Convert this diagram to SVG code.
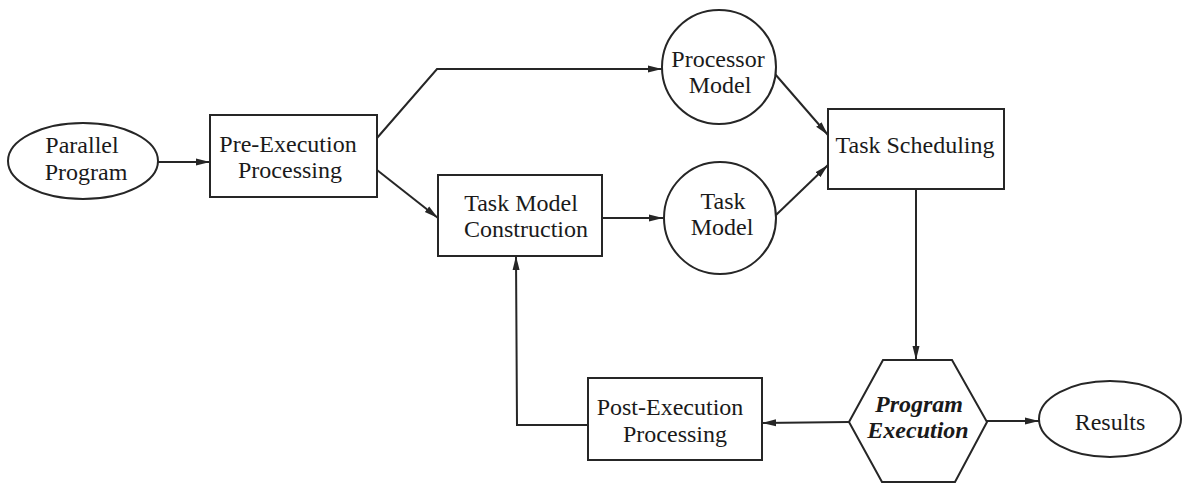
<svg xmlns="http://www.w3.org/2000/svg" width="1184" height="484" viewBox="0 0 1184 484">
  <style>
    .shape { fill: #ffffff; stroke: #262626; stroke-width: 2; }
    .link { fill: none; stroke: #262626; stroke-width: 2; }
    .label { font-family: "Liberation Serif", "Times New Roman", serif; font-size: 24px; fill: #1a1a1a; text-anchor: middle; }
    .emph { font-weight: bold; font-style: italic; }
  </style>
  <defs>
    <marker id="arrow" viewBox="0 0 14 10" refX="14" refY="5" markerWidth="14" markerHeight="10" markerUnits="userSpaceOnUse" orient="auto">
      <path d="M0,1.5 L14,5 L0,8.5 Z" fill="#262626"/>
    </marker>
  </defs>
  <rect width="1184" height="484" fill="#ffffff"/>

  <!-- connectors -->
  <g id="connectors">
    <line class="link" x1="158" y1="162" x2="210" y2="162" marker-end="url(#arrow)"/>
    <polyline class="link" points="377,138 437,69 662,69" marker-end="url(#arrow)"/>
    <line class="link" x1="377" y1="170" x2="438" y2="218" marker-end="url(#arrow)"/>
    <line class="link" x1="602" y1="218" x2="663" y2="218" marker-end="url(#arrow)"/>
    <line class="link" x1="775" y1="74" x2="828" y2="135" marker-end="url(#arrow)"/>
    <line class="link" x1="776" y1="215" x2="828" y2="165" marker-end="url(#arrow)"/>
    <line class="link" x1="916" y1="189" x2="916" y2="360" marker-end="url(#arrow)"/>
    <line class="link" x1="849" y1="422" x2="762" y2="423" marker-end="url(#arrow)"/>
    <line class="link" x1="987" y1="421" x2="1039" y2="421" marker-end="url(#arrow)"/>
    <polyline class="link" points="588,425 517,425 516,256" marker-end="url(#arrow)"/>
  </g>

  <!-- nodes -->
  <g id="parallel-program">
    <ellipse class="shape" cx="83" cy="161" rx="75" ry="38"/>
    <text class="label" x="82" y="153">Parallel</text>
    <text class="label" x="86" y="180">Program</text>
  </g>

  <g id="pre-execution">
    <rect class="shape" x="210" y="115" width="167" height="82"/>
    <text class="label" x="288" y="152">Pre-Execution</text>
    <text class="label" x="290" y="178">Processing</text>
  </g>

  <g id="processor-model">
    <circle class="shape" cx="719" cy="67" r="57"/>
    <text class="label" x="718" y="67">Processor</text>
    <text class="label" x="720" y="93">Model</text>
  </g>

  <g id="task-model-construction">
    <rect class="shape" x="438" y="175" width="164" height="81"/>
    <text class="label" x="521" y="211">Task Model</text>
    <text class="label" x="526" y="237">Construction</text>
  </g>

  <g id="task-model">
    <circle class="shape" cx="720" cy="218" r="56"/>
    <text class="label" x="723" y="209">Task</text>
    <text class="label" x="722" y="235">Model</text>
  </g>

  <g id="task-scheduling">
    <rect class="shape" x="828" y="109" width="176" height="80"/>
    <text class="label" x="915" y="153">Task Scheduling</text>
  </g>

  <g id="program-execution">
    <polygon class="shape" points="849,422 883,360 952,360 987,422 955,482 882,482"/>
    <text class="label emph" x="919" y="412">Program</text>
    <text class="label emph" x="918" y="438">Execution</text>
  </g>

  <g id="post-execution">
    <rect class="shape" x="588" y="378" width="174" height="82"/>
    <text class="label" x="670" y="415">Post-Execution</text>
    <text class="label" x="675" y="442">Processing</text>
  </g>

  <g id="results">
    <ellipse class="shape" cx="1110" cy="419" rx="71" ry="38"/>
    <text class="label" x="1110" y="430">Results</text>
  </g>
</svg>
